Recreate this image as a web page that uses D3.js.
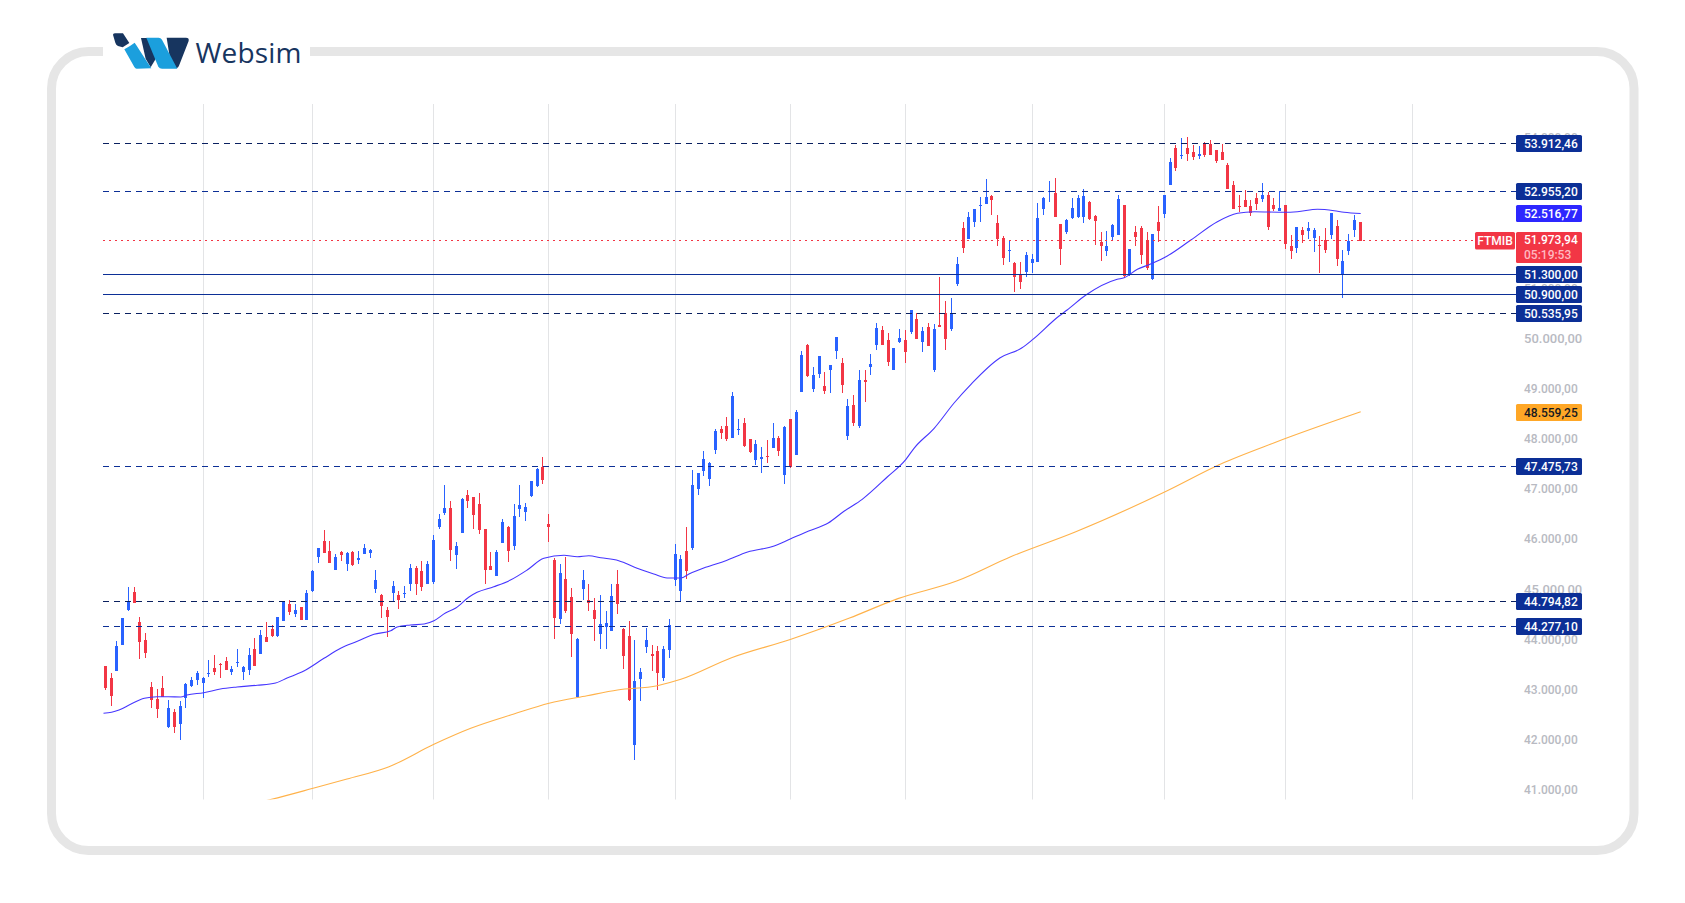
<!DOCTYPE html>
<html><head><meta charset="utf-8">
<style>html,body{margin:0;padding:0;background:#fff}svg{display:block}text{font-family:Roboto,sans-serif}</style>
<script src="https://cdn.jsdelivr.net/npm/d3@7/dist/d3.min.js"></script></head><body>
<svg id="c" width="1685" height="903"></svg>
<script>
const opens=[43489,43250,43396,43915,44606,44966,44367,44008,43070,42831,
43050,42279,42572,42339,42858,43097,43217,43157,43330,43449,
43529,43589,43376,43549,43376,43416,43828,43735,44068,44227,
44094,44394,44726,44533,44666,44414,44992,45670,45983,45784,
45411,45764,45531,45764,45611,45730,45744,45032,44906,44606,
44946,44906,44926,45125,45444,45385,45125,45165,46256,46535,
46641,45704,46143,46901,46861,46721,46222,45484,45285,45943,
46262,45883,46621,46562,46881,47080,47459,46322,45604,44427,
45225,44866,42871,45025,44806,44606,44128,44267,44188,45125,
44227,44088,41913,43230,43868,43729,43789,43250,43808,45205,
44986,45784,45843,47020,47380,47220,47797,48216,48276,48037,
48196,48336,48017,47598,47618,47678,47837,48037,47299,48416,
47698,48955,49892,49014,49314,49074,49393,49773,49533,48077,
48695,48276,49194,49453,49892,50191,49992,49393,49952,49992,
50152,50411,49952,50251,49393,50291,50531,50211,51110,52227,
52007,52347,52666,52706,52865,52327,52027,51768,51529,51289,
51349,51529,51549,52606,52945,52925,52307,52147,52426,52446,
52446,52746,52466,51948,51768,52047,52087,52686,51289,52147,
52227,51987,51209,52347,52506,53085,53823,53663,53823,53743,
53663,53923,53903,53783,53743,53484,53085,52666,52785,52666,
52825,52805,52885,52686,52566,52686,51868,51828,52187,52167,
52027,51888,51987,52087,52267,51289,51768,52187,52347];
const highs=[43489,43350,43988,44447,45065,45065,44467,44148,43170,43030,
43290,42811,42631,42791,43150,43270,43390,43270,43609,43709,
43542,43669,43489,43828,43489,43848,44048,44207,44367,44307,
44467,44779,44806,44726,44666,45005,45404,45843,46202,45983,
45724,45784,45764,45784,45784,45923,45823,45404,44926,44666,
45185,44986,45085,45524,45484,45584,45584,46103,46522,47100,
46781,45963,46841,47000,46861,46941,46222,45764,45803,46422,
46282,46721,47100,46741,47180,47439,47659,46522,45644,45524,
45664,45045,44048,45404,45125,44846,44906,44587,45125,45404,
44247,44380,44008,43449,44247,43908,43888,43888,44427,45923,
45704,46262,47399,47340,47779,47559,48216,48276,48456,48955,
48416,48436,48017,47997,47857,47997,48336,48077,48276,48416,
48595,49773,49912,49453,49673,49354,49493,50052,49633,48815,
48895,49393,49393,49713,50331,50271,50132,49832,50211,50191,
50590,50531,50251,50331,50311,51249,50770,50830,51648,52347,
52546,52606,52845,53204,52885,52486,52067,51987,51549,51549,
51748,51708,52726,52845,53165,53224,52307,52406,52825,52885,
53005,52766,52486,52147,52167,52307,52885,52686,51808,52267,
52267,52147,52107,52666,52885,53623,53883,54022,54042,53883,
53863,53943,53982,53783,53903,53524,53165,52885,52985,52785,
52925,53125,52945,52825,52958,52686,52087,52247,52247,52347,
52227,52067,52227,52526,52386,51788,52107,52486,52347];
const lows=[43017,42698,43396,43915,44587,44753,43636,43656,42658,42459,
42878,42259,42159,42020,42658,43077,43117,42858,43276,43316,
43257,43416,43316,43476,43217,43316,43496,43735,43975,44074,
44074,44394,44513,44473,44414,44414,44972,45551,45750,45551,
45411,45591,45391,45491,45531,45730,45651,44952,44454,44074,
44779,44633,44846,44986,44906,44986,45125,45125,46222,46502,
45584,45424,46143,46641,46222,46123,45125,45404,45285,45943,
45564,45803,46462,46382,46861,47060,47120,45963,44028,44327,
44547,43669,42871,44806,44587,43988,43828,43828,44188,44527,
43429,42791,41614,42791,43749,43383,43010,43190,43649,45085,
44786,45225,45803,46901,47280,47080,47718,48017,47977,48037,
48097,47857,47738,47498,47339,47538,47837,47678,47119,47438,
47698,48955,49254,48955,49234,48915,48935,49613,48935,47997,
48276,48236,48755,49294,49792,49892,49473,49393,49932,49533,
50112,50012,49753,49872,49354,50251,49792,50172,51070,51728,
52007,52247,52347,52706,52486,51868,51489,51549,50950,51010,
51249,51329,51549,52486,52746,52446,51489,52107,52406,52426,
52327,52386,51888,51569,51668,51968,52087,51229,51269,51868,
51509,51389,51189,51948,52426,53085,53364,53603,53564,53583,
53603,53643,53683,53524,53583,53005,52606,52546,52646,52466,
52586,52746,52187,52566,52566,51808,51608,51728,51928,52007,
51748,51329,51728,52007,51469,50830,51688,52047,51973.94];
const closes=[43057,42897,43888,44447,44779,44753,43975,43755,42818,42638,
42878,42651,42279,42691,43130,43210,43350,43250,43350,43376,
43509,43416,43429,43569,43469,43709,43496,44108,43975,44094,
44467,44766,44573,44606,44414,44946,45385,45843,45750,45551,
45664,45704,45744,45511,45644,45843,45803,45205,44693,44473,
45085,44806,44946,45444,45125,45065,45524,46003,46422,46641,
45803,45883,46821,46781,46502,46202,45404,45404,45764,46362,
45784,46482,46701,46661,47180,47419,47200,46262,44447,45345,
44587,44128,44028,45205,44746,44427,44327,44347,44886,44726,
43689,42811,43190,43370,44008,43689,43350,43828,44307,45724,
45624,45385,47100,47340,47619,47539,48177,48137,48017,48875,
48216,47877,47758,47917,47658,47658,48037,47778,48256,47458,
48556,49693,49274,49294,49673,48975,49493,50052,49094,48675,
48336,49194,49154,49513,50231,49892,49553,49832,50032,49753,
50590,50012,50172,49872,50211,50251,50012,50531,51509,51828,
52446,52606,52686,52845,52785,52007,51628,51788,51249,51150,
51688,51608,52426,52825,52965,52446,51808,52386,52626,52825,
52865,52406,52367,51868,51868,52287,52805,51269,51808,52047,
51688,51429,52107,52167,52885,53544,53424,53683,53703,53643,
53703,53683,53683,53564,53583,53005,52606,52646,52646,52526,
52706,52885,52247,52606,52626,51908,51768,52247,52087,52227,
52187,51868,51788,52526,51608,51569,51968,52386,51973.94];

const fastIndex=[-0.4,1,2.3,4.3,6.7,8.9,10.9,13,14.1,17,19.9,22.8,26.3,29.5,31.5,34.4,37.9,40.8,43.7,46.6,49.5,50.6,52.9,55.3,57,59,60.8,63.1,64.5,67.4,70.3,73.2,76.1,79.6,81.9,83.9,86,89.1,92.3,95.2,97.5,99.9,101.3,104.2,107.7,111.5,116.1,118.9,122.1,125.5,128.3,131.4,135.8,139,140.4,143.9,147.4,150.3,155.3,159.1,161,165.6,167,170.2,175.7,176.9,179.2,181.5,184.4,188.5,193.1,196.6,199.5,204.7,207,210.5,213.4,215.1,218];
const fastValues=[42545,42565,42611,42725,42844,42876,42876,42870,42910,42956,43030,43070,43104,43150,43249,43389,43642,43842,43981,44121,44193,44267,44307,44327,44392,44546,44646,44865,44959,45071,45204,45404,45637,45697,45669,45689,45649,45589,45438,45324,45244,45244,45324,45458,45589,45763,45882,46022,46182,46341,46581,46814,47265,47612,47832,48231,48741,49108,49633,49832,50000,50471,50590,50884,51203,51235,51402,51508,51668,51987,52352,52520,52551,52540,52551,52600,52571,52540,52516.77];
const slowIndex=[27,28.8,36,41.9,49.2,57,63.4,70.9,77,83.6,88.9,95.8,99.9,108.7,118.9,129.2,137.6,147.8,157.2,168.4,184.3,193.6,203,218];
const slowValues=[40780,40830,41049,41234,41480,41927,42246,42531,42745,42896,43010,43096,43223,43654,44019,44446,44833,45184,45669,46162,46980,47514,47943,48559.25];

const gridIndex=[17,36,57,77,99,119,139,161,184,205,227];
const axisTicks=[41000,42000,43000,44000,45000,46000,47000,48000,49000,50000,51000,52000,53000,54000];
const largeTicks=[45000,50000];
const levelsDashDark=[53912.46,50535.95,44794.82];
const levelsDashBlue=[52955.20,47475.73,44277.10];
const levelsSolid=[51300,50900];
const fastLast=52516.77, slowLast=48559.25, lastPrice=51973.94;
const symbol="FTMIB", countdown="05:19:53", brand="Websim";

const colUp="#2962ff",colDown="#f23645",colNavy="#0c2f96",colDark="#0a2060",colGrid="#e3e4e6",colTick="#b8bac2";

const svg=d3.select("#c");
const loc=d3.formatLocale({decimal:",",thousands:".",grouping:[3],currency:["",""]});
const fmt=loc.format(",.2f");

const x=d3.scaleLinear().domain([0,218]).range([105.3,1360.2]);
const y=d3.scaleLinear().domain([44277.10,53912.46]).range([626.5,143.5]);
const px=i=>Math.floor(x(i));
const row=v=>Math.round(y(v)-.04);

// frame
svg.append("rect").attr("x",51.5).attr("y",51.5).attr("width",1582.5).attr("height",799)
 .attr("rx",37).attr("fill","none").attr("stroke","#e6e6e6").attr("stroke-width",9);
svg.append("rect").attr("x",103).attr("y",40).attr("width",207).attr("height",24).attr("fill","#fff");

// logo
const logo=svg.append("g").attr("transform","translate(30,20) scale(.3333)");
const navy="#17355f",sky="#1b9fdd";
[["M249,44 Q250,40 256,40 L279,40 L298,69 L278,82 L264,78 Q258,75 256,68 Z",navy],
 ["M333,54 L372,54 L392,92 L362,142 L347,116 Z",navy],
 ["M410,53 L468,53 Q478,53 476,63 L447,137 Q444,146 437,144 L420,116 Z",navy],
 ["M283,88 L300,78 L314,68 Q322,80 364,145 L320,146 Q316,146 313,141 Z",sky],
 ["M349,53 L386,53 Q392,53 396,59 L442,146 L396,146 Q389,146 385,140 Z",sky]]
 .forEach(d=>logo.append("path").attr("d",d[0]).attr("fill",d[1]));
svg.append("text").attr("x",195.5).attr("y",62.5).attr("fill","#17355f").style("font-family","'Open Sans',sans-serif")
 .attr("font-size",28).attr("font-weight",500).attr("letter-spacing",0.2).text(brand);

// plot
svg.append("defs").append("clipPath").attr("id","plot").append("rect")
 .attr("x",103).attr("y",103.5).attr("width",1412.5).attr("height",696);
const plot=svg.append("g").attr("clip-path","url(#plot)");
const crisp=plot.append("g").attr("shape-rendering","crispEdges");

crisp.selectAll(".g").data(gridIndex).join("rect").attr("class","g")
 .attr("x",px).attr("width",1).attr("y",103.5).attr("height",696).attr("fill",colGrid);

// indicator lines
const lineOf=(I,V)=>d3.line().x((d,i)=>x(I[i])+.5).y(d=>y(d)).curve(d3.curveMonotoneX)(V);
plot.append("path").attr("d",lineOf(slowIndex,slowValues)).attr("fill","none").attr("stroke","#ffb24a").attr("stroke-width",1.1);
plot.append("path").attr("d",lineOf(fastIndex,fastValues)).attr("fill","none").attr("stroke","#4636ff").attr("stroke-width",1.1);

// candles
const candles=d3.range(opens.length).map(i=>({i,o:opens[i],h:highs[i],l:lows[i],c:closes[i]}));
const cg=crisp.append("g");
cg.selectAll(".w").data(candles).join("rect").attr("class","w")
 .attr("x",d=>px(d.i)).attr("width",1)
 .attr("y",d=>Math.round(y(d.h))).attr("height",d=>Math.max(1,Math.round(y(d.l))-Math.round(y(d.h))))
 .attr("fill",d=>d.c>=d.o?colUp:colDown);
cg.selectAll(".b").data(candles).join("rect").attr("class","b")
 .attr("x",d=>px(d.i)-1).attr("width",3)
 .attr("y",d=>Math.round(y(Math.max(d.o,d.c)))).attr("height",d=>Math.max(1,Math.round(y(Math.min(d.o,d.c)))-Math.round(y(Math.max(d.o,d.c)))))
 .attr("fill",d=>d.c>=d.o?colUp:colDown);

// levels
const over=svg.append("g");
const hl=(v,col,dash)=>over.append("line").attr("x1",103).attr("x2",1516).attr("y1",row(v)+.5).attr("y2",row(v)+.5)
 .attr("stroke",col).attr("stroke-width",1).attr("stroke-dasharray",dash).attr("shape-rendering","crispEdges");
levelsSolid.forEach(v=>hl(v,colNavy,null));
levelsDashDark.forEach(v=>hl(v,colDark,"6 5"));
levelsDashBlue.forEach(v=>hl(v,colNavy,"6 5"));
over.append("line").attr("x1",103).attr("x2",1475).attr("y1",Math.floor(y(lastPrice))+.5).attr("y2",Math.floor(y(lastPrice))+.5)
 .attr("stroke",colDown).attr("stroke-dasharray","2 4").attr("shape-rendering","crispEdges");

// axis
const axis=svg.append("g").attr("transform","translate(1524,-1)")
 .call(d3.axisRight(y).tickValues(axisTicks).tickSize(0).tickPadding(0).tickFormat(fmt));
axis.select(".domain").remove();
axis.selectAll("text").attr("fill",colTick).style("font-family","Roboto,sans-serif")
 .attr("font-weight",500).attr("font-size",d=>largeTicks.includes(d)?13:12);

// price tags
const tag=(v,fill,tcol)=>{
 const g=svg.append("g");
 const r=row(v);
 g.append("rect").attr("x",1516).attr("width",66).attr("y",r-8).attr("height",17).attr("rx",1.5).attr("fill",fill);
 g.append("text").attr("x",1524).attr("y",r+.5).attr("dy","0.36em").attr("fill",tcol).attr("font-size",12).attr("font-weight",500).text(fmt(v));
};
levelsDashDark.concat(levelsDashBlue,levelsSolid).forEach(v=>tag(v,colNavy,"#fff"));
tag(fastLast,"#2d27ff","#fff");
tag(slowLast,"#ffa726","#131722");

// last price tag
const ly=y(lastPrice);
svg.append("rect").attr("x",1475).attr("width",40).attr("y",Math.round(ly-9)).attr("height",17.5).attr("rx",1.5).attr("fill",colDown);
svg.append("text").attr("x",1495).attr("y",ly).attr("dy","0.36em").attr("text-anchor","middle").attr("fill","#fff").attr("font-size",12).attr("font-weight",500).text(symbol);
svg.append("rect").attr("x",1516).attr("width",66).attr("y",Math.round(ly-9)).attr("height",31).attr("rx",1.5).attr("fill",colDown);
svg.append("text").attr("x",1524).attr("y",ly-1).attr("dy","0.36em").attr("fill","#fff").attr("font-size",12).attr("font-weight",500).text(fmt(lastPrice));
svg.append("text").attr("x",1524).attr("y",ly+14).attr("dy","0.36em").attr("fill","#ffb9c0").attr("font-size",12).attr("font-weight",500).text(countdown);
</script></body></html>
